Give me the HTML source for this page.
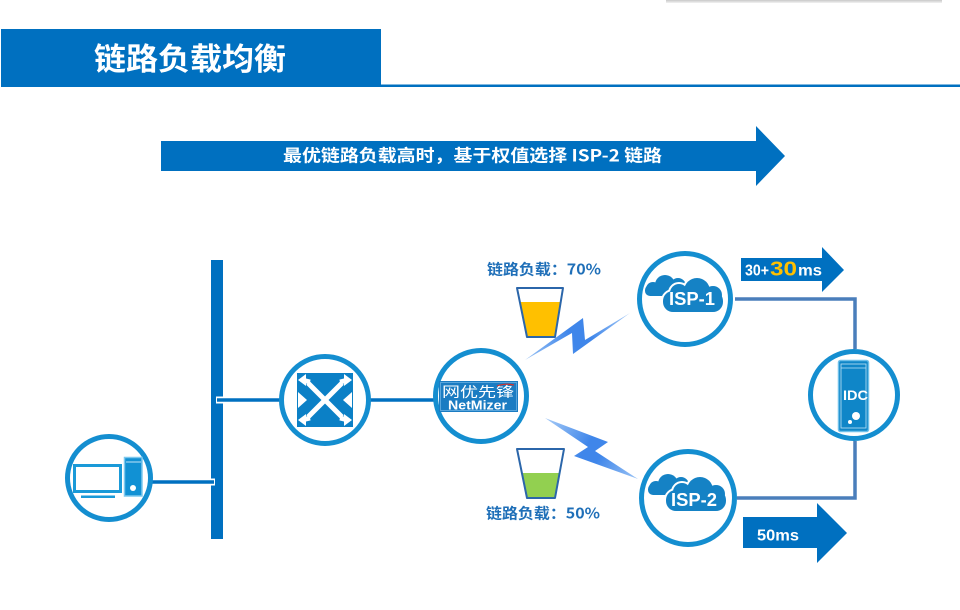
<!DOCTYPE html>
<html><head><meta charset="utf-8">
<style>
html,body{margin:0;padding:0;background:#fff;}
svg{display:block;}
text{font-family:"Liberation Sans","Noto Sans CJK SC",sans-serif;font-weight:bold;}
.cjk{font-family:"Noto Sans CJK SC","WenQuanYi Zen Hei",sans-serif;font-weight:bold;}
</style></head>
<body>
<svg width="960" height="610" viewBox="0 0 960 610" xmlns="http://www.w3.org/2000/svg">
<defs>
  <linearGradient id="topsh" x1="0" y1="0" x2="0" y2="1">
    <stop offset="0" stop-color="#c8c8c8"/><stop offset="1" stop-color="#f2f2f2"/>
  </linearGradient>
  <linearGradient id="bolt1" x1="525" y1="360" x2="630" y2="313" gradientUnits="userSpaceOnUse">
    <stop offset="0" stop-color="#9cc4f5"/><stop offset="0.45" stop-color="#3f86ea"/><stop offset="0.6" stop-color="#3f86ea"/><stop offset="1" stop-color="#a8ccf7"/>
  </linearGradient>
  <linearGradient id="bolt2" x1="545" y1="418" x2="638" y2="479" gradientUnits="userSpaceOnUse">
    <stop offset="0" stop-color="#a8ccf7"/><stop offset="0.45" stop-color="#3f86ea"/><stop offset="0.6" stop-color="#3f86ea"/><stop offset="1" stop-color="#9cc4f5"/>
  </linearGradient>
  <g id="cloud">
    <g fill="#1582c5">
      <circle cx="-32" cy="-10" r="7"/>
      <circle cx="-20" cy="-14" r="10"/>
      <circle cx="-7" cy="-13" r="8"/>
      <rect x="-40" y="-14" width="34" height="11" rx="5"/>
    </g>
    <g fill="#fff" stroke="#fff" stroke-width="4">
      <circle cx="-6" cy="-6" r="9"/>
      <circle cx="12" cy="-8" r="13"/>
      <circle cx="28" cy="-4" r="9"/>
      <rect x="-22" y="-8" width="60" height="21" rx="10"/>
    </g>
    <g fill="#1582c5">
      <circle cx="-6" cy="-6" r="9"/>
      <circle cx="12" cy="-8" r="13"/>
      <circle cx="28" cy="-4" r="9"/>
      <rect x="-22" y="-8" width="60" height="21" rx="10"/>
    </g>
  </g>
</defs>

<!-- top right grey shadow -->
<rect x="666" y="0" width="276" height="3" fill="url(#topsh)"/>

<!-- header -->
<rect x="1" y="29" width="380" height="58" fill="#0070C0"/>
<rect x="380" y="84.5" width="580" height="2.5" fill="#0070C0"/>
<text class="cjk" x="94" y="70" font-size="31" fill="#fff" textLength="192" lengthAdjust="spacingAndGlyphs">链路负载均衡</text>

<!-- big arrow -->
<polygon points="161,141 756,141 756,126 785,156 756,186 756,171 161,171" fill="#0070C0"/>
<text class="cjk" x="283" y="161.5" font-size="17" fill="#fff" textLength="379" lengthAdjust="spacingAndGlyphs">最优链路负载高时，基于权值选择 ISP-2 链路</text>

<!-- vertical bus -->
<rect x="211" y="260" width="12" height="279" fill="#0070C0"/>

<!-- connectors -->
<line x1="216" y1="400" x2="281" y2="400" stroke="#fff" stroke-width="7"/>
<line x1="217" y1="400" x2="281" y2="400" stroke="#0070C0" stroke-width="3.5"/>
<line x1="150" y1="482" x2="215" y2="482" stroke="#fff" stroke-width="7"/>
<line x1="150" y1="482" x2="214" y2="482" stroke="#0070C0" stroke-width="3.5"/>
<line x1="369" y1="400" x2="434" y2="400" stroke="#0070C0" stroke-width="3.5"/>

<!-- ISP to IDC connectors -->
<polyline points="735,299 855,299 855,349" fill="none" stroke="#4a7ebb" stroke-width="3.5"/>
<polyline points="855,441 855,498 737,498" fill="none" stroke="#4a7ebb" stroke-width="3.5"/>

<!-- PC node -->
<circle cx="109" cy="478" r="41.5" fill="#fff" stroke="#148ED0" stroke-width="5"/>
<rect x="74.5" y="465.5" width="46" height="26" fill="#fff" stroke="#1a9ad8" stroke-width="3"/>
<rect x="81" y="495.5" width="34" height="2.5" fill="#1a9ad8"/>
<rect x="124.5" y="457.5" width="17.5" height="38.5" fill="#1191d4" stroke="#7cc8ee" stroke-width="1.5"/>
<line x1="126" y1="462" x2="141" y2="462" stroke="#bfe3f7" stroke-width="1"/>
<circle cx="133" cy="488" r="3" fill="#fff"/>

<!-- Switch node -->
<circle cx="325" cy="400" r="43.5" fill="#fff" stroke="#148ED0" stroke-width="5"/>
<rect x="297" y="373" width="56" height="54" fill="#0b80c6"/>
<g stroke="#fff" stroke-width="5" stroke-linecap="butt">
  <line x1="308" y1="383" x2="342" y2="417"/>
  <line x1="342" y1="383" x2="308" y2="417"/>
  <line x1="302" y1="380" x2="310" y2="382"/>
  <line x1="348" y1="380" x2="340" y2="382"/>
  <line x1="302" y1="420" x2="310" y2="418"/>
  <line x1="348" y1="420" x2="340" y2="418"/>
</g>
<g fill="#fff">
  <polygon points="298,380 306,374 306,386"/>
  <polygon points="352,380 344,374 344,386"/>
  <polygon points="298,420 306,414 306,426"/>
  <polygon points="352,420 344,414 344,426"/>
  <polygon points="298,392 307,400 298,408"/>
  <polygon points="352,392 343,400 352,408"/>
</g>

<!-- NetMizer node -->
<circle cx="481" cy="396" r="45.5" fill="#fff" stroke="#148ED0" stroke-width="5"/>
<rect x="439" y="381" width="79" height="31" fill="#1b7cc2"/>
<rect x="440.5" y="382.5" width="76" height="28" fill="none" stroke="#5aa6dc" stroke-width="1"/>
<text class="cjk" x="442" y="397" font-size="14" fill="#fff" textLength="72" lengthAdjust="spacingAndGlyphs" style="font-weight:normal">网优先锋</text>
<path d="M497,386 Q505,383 514,385" stroke="#d0312d" stroke-width="1.2" fill="none"/>
<text x="448" y="409.5" font-size="12.5" fill="#fff" textLength="59" lengthAdjust="spacingAndGlyphs">NetMizer</text>

<!-- labels and cups -->
<text class="cjk" x="487" y="274.5" font-size="15" fill="#1F6FB8" textLength="114" lengthAdjust="spacingAndGlyphs">链路负载：70%</text>
<polygon points="519.9,302 560.7,302 555,337 527,337" fill="#FFC000"/>
<polygon points="517,288 563,288 555,337 527,337" fill="none" stroke="#2b66aa" stroke-width="2" stroke-linejoin="round"/>

<polygon points="521.9,473 559.6,473 555,498 527,498" fill="#92D050"/>
<polygon points="517,449 564,449 555,498 527,498" fill="none" stroke="#2b66aa" stroke-width="2" stroke-linejoin="round"/>
<text class="cjk" x="486" y="518.5" font-size="15" fill="#1F6FB8" textLength="114" lengthAdjust="spacingAndGlyphs">链路负载：50%</text>

<!-- lightning bolts -->
<polygon points="525,360 583,318 585,340 630,313 573,354 572,333" fill="url(#bolt1)"/>
<polygon points="545,418 608,442 595,451 638,479 574,456 588,447" fill="url(#bolt2)"/>

<!-- ISP-1 -->
<circle cx="685" cy="299" r="45.5" fill="#fff" stroke="#148ED0" stroke-width="5"/>
<use href="#cloud" x="685" y="299"/>
<text x="669" y="305" font-size="18" fill="#fff" textLength="46" lengthAdjust="spacingAndGlyphs">ISP-1</text>

<!-- ISP-2 -->
<circle cx="688" cy="498" r="46.5" fill="#fff" stroke="#148ED0" stroke-width="5"/>
<use href="#cloud" x="688" y="498"/>
<text x="671" y="506" font-size="18" fill="#fff" textLength="46" lengthAdjust="spacingAndGlyphs">ISP-2</text>

<!-- IDC -->
<circle cx="854" cy="395" r="43.5" fill="#fff" stroke="#148ED0" stroke-width="5"/>
<rect x="838.5" y="360.5" width="30" height="71" rx="2" fill="#0f86c8" stroke="#6fc0ea" stroke-width="1.5"/>
<rect x="841" y="364" width="25" height="64" fill="none" stroke="#bfe3f7" stroke-width="0.8"/>
<line x1="841" y1="368" x2="866" y2="368" stroke="#bfe3f7" stroke-width="0.8"/>
<text x="843" y="400" font-size="14" fill="#fff" textLength="25" lengthAdjust="spacingAndGlyphs">IDC</text>
<circle cx="856" cy="416" r="4" fill="#fff"/>
<circle cx="850" cy="422" r="2" fill="#fff"/>

<!-- latency arrows -->
<polygon points="741,258 822,258 822,247 844,270 822,292 822,281 741,281" fill="#0070C0"/>
<text x="745" y="275.5" font-size="16" fill="#fff" textLength="24" lengthAdjust="spacingAndGlyphs">30+</text>
<text x="770" y="275.5" font-size="20" fill="#FFC000" textLength="27" lengthAdjust="spacingAndGlyphs">30</text>
<text x="798" y="275.5" font-size="16" fill="#fff" textLength="24" lengthAdjust="spacingAndGlyphs">ms</text>

<polygon points="743,517 817,517 817,503 847,533 817,563 817,548 743,548" fill="#0070C0"/>
<text x="757" y="540.5" font-size="15.5" fill="#fff" textLength="42" lengthAdjust="spacingAndGlyphs">50ms</text>
</svg>
</body></html>
